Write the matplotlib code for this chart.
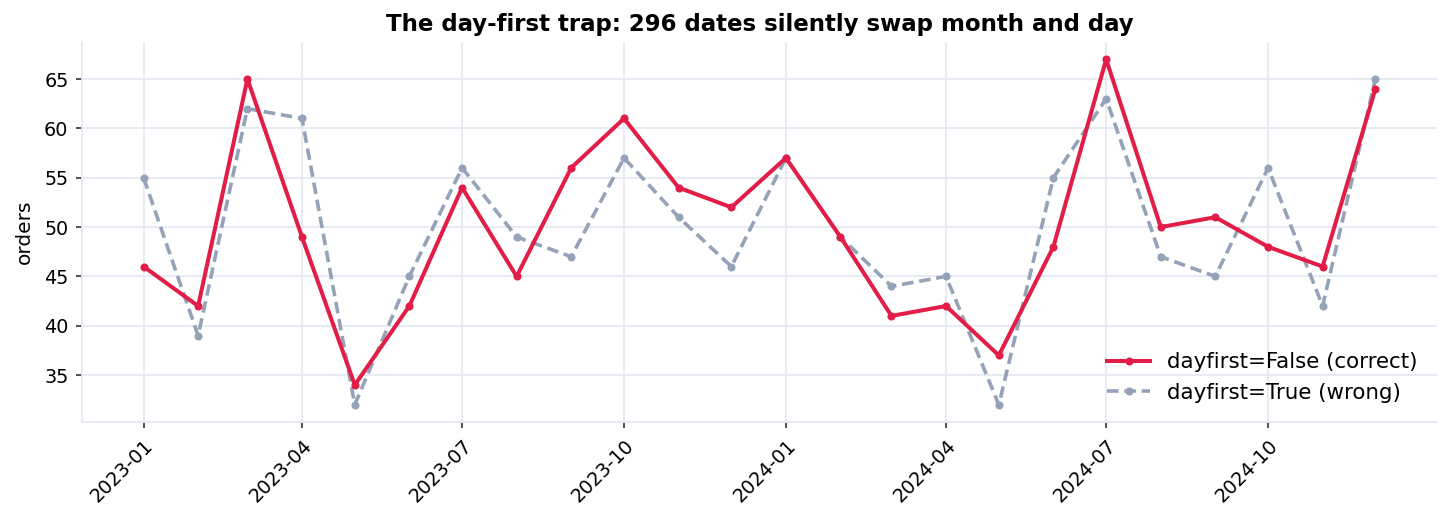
import matplotlib
matplotlib.use("Agg")
import matplotlib.pyplot as plt
import matplotlib.dates as mdates
import pandas as pd

months = pd.date_range("2023-01-01", periods=24, freq="MS")
correct = [46, 42, 65, 49, 34, 42, 54, 45, 56, 61, 54, 52,
           57, 49, 41, 42, 37, 48, 67, 50, 51, 48, 46, 64]
wrong = [55, 39, 62, 61, 32, 45, 56, 49, 47, 57, 51, 46,
         57, 49, 44, 45, 32, 55, 63, 47, 45, 56, 42, 65]
tick_dates = pd.date_range("2023-01-01", "2024-10-01", freq="3MS")

fig = plt.figure(figsize=(14.51, 5.27), dpi=100)
ax = fig.add_axes([82/1451, 1 - 422/527, (1437-82)/1451, (422-42)/527])

ax.plot(months, wrong, color="#94a3b8", lw=2.6, ls="--", dashes=(3.2, 1.6),
        marker="o", ms=4.8, label="dayfirst=True (wrong)", zorder=2)
ax.plot(months, correct, color="#e11d48", lw=2.9, marker="o", ms=4.8,
        label="dayfirst=False (correct)", zorder=3)

ax.grid(True, color="#e6e9f2", lw=1.3)
ax.set_axisbelow(True)
for s in ["top", "right"]:
    ax.spines[s].set_visible(False)
for s in ["left", "bottom"]:
    ax.spines[s].set_color("#e6e9f2")
    ax.spines[s].set_linewidth(1.3)

ax.set_xticks(tick_dates)
ax.xaxis.set_major_formatter(mdates.DateFormatter("%Y-%m"))
ax.tick_params(axis="both", labelsize=13.8, color="#333333", length=4.3,
               width=1.2, pad=5.5)
plt.setp(ax.get_xticklabels(), rotation=45, ha="right", rotation_mode="anchor")
ax.set_ylabel("orders", fontsize=14.5, labelpad=7)
ax.set_title("The day-first trap: 296 dates silently swap month and day",
             fontsize=16.5, fontweight="bold", pad=8)

h, l = ax.get_legend_handles_labels()
ax.legend(h[::-1], l[::-1], loc="lower right", frameon=False, fontsize=15.4,
          handlelength=2.0)

fig.savefig("out.png", dpi=100)
